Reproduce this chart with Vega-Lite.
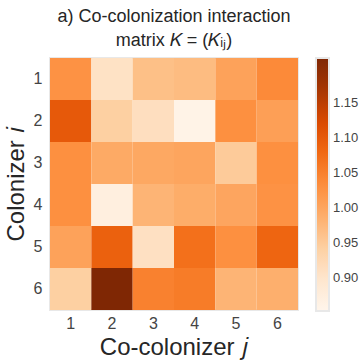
{
  "$schema": "https://vega.github.io/schema/vega-lite/v6.json",
  "width": 248,
  "height": 252,
  "padding": {"left": 4, "top": 8, "right": 5, "bottom": 5},
  "background": "white",
  "config": {
    "font": "Liberation Sans",
    "view": {"stroke": "#e8e8e8", "strokeWidth": 2}
  },
  "title": {
    "text": ["a) Co-colonization interaction", "matrix 𝐾 = (𝐾ᵢⱼ)"],
    "fontSize": 18,
    "fontWeight": "normal",
    "color": "#262626",
    "anchor": "middle",
    "lineHeight": 24,
    "offset": 8
  },
  "data": {
    "values": [
      {"i": 1, "j": 1, "K": 1.026}, {"i": 1, "j": 2, "K": 0.907}, {"i": 1, "j": 3, "K": 0.965}, {"i": 1, "j": 4, "K": 0.970}, {"i": 1, "j": 5, "K": 1.005}, {"i": 1, "j": 6, "K": 1.037},
      {"i": 2, "j": 1, "K": 1.100}, {"i": 2, "j": 2, "K": 0.943}, {"i": 2, "j": 3, "K": 0.914}, {"i": 2, "j": 4, "K": 0.860}, {"i": 2, "j": 5, "K": 1.030}, {"i": 2, "j": 6, "K": 1.009},
      {"i": 3, "j": 1, "K": 1.030}, {"i": 3, "j": 2, "K": 0.994}, {"i": 3, "j": 3, "K": 0.997}, {"i": 3, "j": 4, "K": 1.001}, {"i": 3, "j": 5, "K": 0.950}, {"i": 3, "j": 6, "K": 1.030},
      {"i": 4, "j": 1, "K": 1.030}, {"i": 4, "j": 2, "K": 0.871}, {"i": 4, "j": 3, "K": 0.980}, {"i": 4, "j": 4, "K": 0.990}, {"i": 4, "j": 5, "K": 1.000}, {"i": 4, "j": 6, "K": 1.026},
      {"i": 5, "j": 1, "K": 1.005}, {"i": 5, "j": 2, "K": 1.090}, {"i": 5, "j": 3, "K": 0.910}, {"i": 5, "j": 4, "K": 1.070}, {"i": 5, "j": 5, "K": 1.030}, {"i": 5, "j": 6, "K": 1.084},
      {"i": 6, "j": 1, "K": 0.943}, {"i": 6, "j": 2, "K": 1.214}, {"i": 6, "j": 3, "K": 1.048}, {"i": 6, "j": 4, "K": 1.055}, {"i": 6, "j": 5, "K": 0.980}, {"i": 6, "j": 6, "K": 0.987}
    ]
  },
  "mark": {"type": "rect"},
  "encoding": {
    "x": {
      "field": "j", "type": "ordinal",
      "scale": {"paddingInner": 0, "paddingOuter": 0},
      "axis": {
        "title": "Co-colonizer 𝑗", "titleFontSize": 24, "titleFontWeight": "normal", "titleColor": "#262626",
        "labelAngle": 0, "labelFontSize": 16, "labelColor": "#444444", "labelPadding": 5,
        "domain": false, "ticks": false, "titlePadding": 4
      }
    },
    "y": {
      "field": "i", "type": "ordinal",
      "scale": {"paddingInner": 0, "paddingOuter": 0},
      "axis": {
        "title": "Colonizer 𝑖", "titleFontSize": 24, "titleFontWeight": "normal", "titleColor": "#262626",
        "labelFontSize": 16, "labelColor": "#444444", "labelPadding": 8,
        "domain": false, "ticks": false, "titlePadding": 5
      }
    },
    "color": {
      "field": "K", "type": "quantitative",
      "scale": {
        "domain": [0.853, 0.898125, 0.94325, 0.988375, 1.0335, 1.078625, 1.12375, 1.168875, 1.214],
        "range": ["#fff5eb", "#fee6ce", "#fdd0a2", "#fdae6b", "#fd8d3c", "#f16913", "#d94801", "#a63603", "#7f2704"],
        "interpolate": "rgb", "nice": false, "zero": false
      },
      "legend": {
        "title": null,
        "orient": "right",
        "offset": 18,
        "gradientLength": 253,
        "gradientThickness": 13,
        "gradientStrokeColor": "#e8e8e8",
        "gradientStrokeWidth": 2,
        "values": [0.90, 0.95, 1.00, 1.05, 1.10, 1.15],
        "format": ".2f",
        "labelFontSize": 13,
        "labelColor": "#444444",
        "labelOffset": 4
      }
    }
  }
}
